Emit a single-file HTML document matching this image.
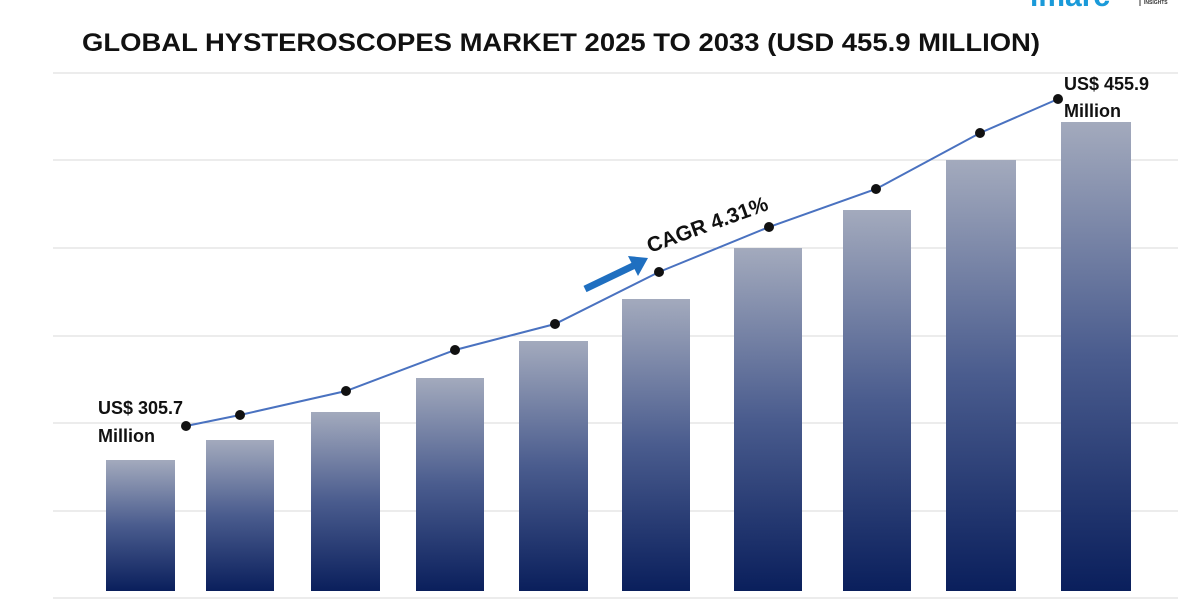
<!DOCTYPE html>
<html><head><style>
body{margin:0;width:1200px;height:600px;overflow:hidden;background:#fff;font-family:"Liberation Sans",sans-serif}
</style></head><body>
<svg width="1200" height="600" xmlns="http://www.w3.org/2000/svg">
<defs>
<linearGradient id="g" x1="0" y1="0" x2="0" y2="1">
<stop offset="0" stop-color="#a3aabd"/>
<stop offset="0.5" stop-color="#4a5c8e"/>
<stop offset="1" stop-color="#0a1f5c"/>
</linearGradient>
</defs>
<g stroke="#d9d9d9" stroke-width="1">
<line x1="53" y1="73" x2="1178" y2="73"/>
<line x1="53" y1="160" x2="1178" y2="160"/>
<line x1="53" y1="248" x2="1178" y2="248"/>
<line x1="53" y1="336" x2="1178" y2="336"/>
<line x1="53" y1="423" x2="1178" y2="423"/>
<line x1="53" y1="511" x2="1178" y2="511"/>
<line x1="53" y1="598" x2="1178" y2="598"/>
</g>
<g fill="url(#g)">
<rect x="106" y="460" width="69" height="131"/>
<rect x="206" y="440" width="68" height="151"/>
<rect x="311" y="412" width="69" height="179"/>
<rect x="416" y="378" width="68" height="213"/>
<rect x="519" y="341" width="69" height="250"/>
<rect x="622" y="299" width="68" height="292"/>
<rect x="734" y="248" width="68" height="343"/>
<rect x="843" y="210" width="68" height="381"/>
<rect x="946" y="160" width="70" height="431"/>
<rect x="1061" y="122" width="70" height="469"/>
</g>
<polyline fill="none" stroke="#4a72c0" stroke-width="2" points="186,426 240,415 346,391 455,350 555,324 659,272 769,227 876,189 980,133 1058,99"/>
<g fill="#111">
<circle cx="186" cy="426" r="5"/><circle cx="240" cy="415" r="5"/><circle cx="346" cy="391" r="5"/><circle cx="455" cy="350" r="5"/><circle cx="555" cy="324" r="5"/><circle cx="659" cy="272" r="5"/><circle cx="769" cy="227" r="5"/><circle cx="876" cy="189" r="5"/><circle cx="980" cy="133" r="5"/><circle cx="1058" cy="99" r="5"/>
</g>
<line x1="585" y1="289" x2="635" y2="265" stroke="#1f6fc0" stroke-width="7"/>
<polygon points="648,258 628,256 638,276" fill="#1f6fc0"/>
<text x="650" y="253" transform="rotate(-20 650 253)" font-size="21" font-weight="bold" fill="#111">CAGR 4.31%</text>
<text x="98" y="414" font-size="18" font-weight="bold" fill="#111">US$ 305.7</text>
<text x="98" y="442" font-size="18" font-weight="bold" fill="#111">Million</text>
<text x="1064" y="90" font-size="18" font-weight="bold" fill="#111">US$ 455.9</text>
<text x="1064" y="117" font-size="18" font-weight="bold" fill="#111">Million</text>
<text x="82" y="51" font-size="25" font-weight="bold" fill="#111" textLength="958" lengthAdjust="spacingAndGlyphs">GLOBAL HYSTEROSCOPES MARKET 2025 TO 2033 (USD 455.9 MILLION)</text>
<text x="1030" y="6" font-size="30" font-weight="bold" fill="#1a9ad9">imarc</text>
<line x1="1140" y1="-2" x2="1140" y2="6" stroke="#333" stroke-width="1"/>
<text x="1144" y="4" font-size="5" font-weight="bold" fill="#333">INSIGHTS</text>
</svg>
</body></html>
